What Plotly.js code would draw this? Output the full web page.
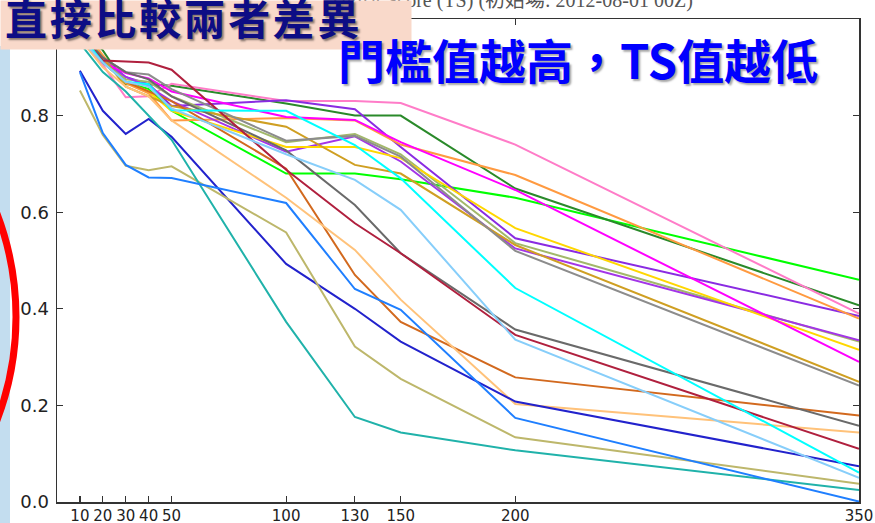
<!DOCTYPE html>
<html>
<head>
<meta charset="utf-8">
<script src="https://cdn.plot.ly/plotly-3.0.1.min.js"></script>
<style>html,body{margin:0;padding:0;background:#fff;}#chart{width:875px;height:523px;}</style>
</head>
<body>
<div id="chart"></div>
<script>
// Threshold values (x axis)
const thresholds = [10, 20, 30, 40, 50, 100, 130, 150, 200, 350];
const xTickVals = [10, 20, 30, 40, 50, 100, 130, 150, 200, 350];
const xTickText = ["10", "20", "30", "40", "50", "100", "130", "150", "200", "350"];
const yTickVals = [0, 0.2, 0.4, 0.6, 0.8, 1.0];
const yTickText = ["0.0", "0.2", "0.4", "0.6", "0.8", "1.0"];

// TS values per member
const tsLime        = [0.97, 0.92, 0.87, 0.855, 0.81, 0.68, 0.68, 0.668, 0.63, 0.46];
const tsDarkGreen   = [0.98, 0.935, 0.865, 0.865, 0.862, 0.825, 0.80, 0.80, 0.649, 0.407];
const tsHotPink     = [0.96, 0.905, 0.838, 0.84, 0.866, 0.83, 0.83, 0.826, 0.74, 0.39];
const tsBlueViolet  = [0.97, 0.92, 0.88, 0.865, 0.82, 0.832, 0.813, 0.735, 0.546, 0.385];
const tsOrange      = [0.99, 0.925, 0.867, 0.846, 0.79, 0.795, 0.79, 0.74, 0.677, 0.38];
const tsOliveGreen  = [0.97, 0.915, 0.875, 0.87, 0.84, 0.745, 0.762, 0.72, 0.536, 0.332];
const tsViolet      = [0.96, 0.915, 0.88, 0.86, 0.83, 0.725, 0.757, 0.705, 0.525, 0.335];
const tsGold        = [0.96, 0.91, 0.87, 0.85, 0.81, 0.735, 0.735, 0.712, 0.567, 0.315];
const tsMagenta     = [0.97, 0.91, 0.888, 0.877, 0.85, 0.797, 0.791, 0.745, 0.646, 0.29];
const tsGoldenrod   = [0.98, 0.92, 0.86, 0.84, 0.82, 0.777, 0.698, 0.68, 0.532, 0.249];
const tsGray        = [0.97, 0.92, 0.89, 0.885, 0.855, 0.748, 0.758, 0.715, 0.52, 0.241];
const tsChocolate   = [0.98, 0.91, 0.87, 0.85, 0.83, 0.69, 0.47, 0.373, 0.258, 0.179];
const tsDimGray     = [0.97, 0.92, 0.89, 0.875, 0.84, 0.728, 0.615, 0.515, 0.357, 0.158];
const tsLightOrange = [0.96, 0.90, 0.86, 0.84, 0.79, 0.63, 0.522, 0.419, 0.203, 0.144];
const tsCrimson     = [0.97, 0.914, 0.912, 0.91, 0.895, 0.688, 0.577, 0.515, 0.346, 0.11];
const tsMediumBlue  = [0.893, 0.81, 0.762, 0.793, 0.756, 0.493, 0.40, 0.332, 0.208, 0.074];
const tsCyan        = [0.97, 0.91, 0.87, 0.865, 0.811, 0.81, 0.739, 0.67, 0.443, 0.061];
const tsLightSky    = [0.96, 0.91, 0.87, 0.86, 0.815, 0.72, 0.667, 0.605, 0.336, 0.05];
const tsDarkKhaki   = [0.852, 0.76, 0.696, 0.687, 0.695, 0.558, 0.322, 0.255, 0.134, 0.038];
const tsSeaGreen    = [0.95, 0.89, 0.85, 0.80, 0.75, 0.373, 0.176, 0.144, 0.107, 0.025];
const tsDodgerBlue  = [0.89, 0.764, 0.698, 0.672, 0.671, 0.619, 0.441, 0.398, 0.174, 0.001];

const series = [
  [tsLime, "#00ff00"], [tsDarkGreen, "#2a8a2a"], [tsHotPink, "#ff7cc8"],
  [tsBlueViolet, "#8a2be2"], [tsOrange, "#ff9a40"], [tsOliveGreen, "#a2b86a"],
  [tsViolet, "#a335e8"], [tsGold, "#ffd700"], [tsMagenta, "#ff00ff"],
  [tsGoldenrod, "#cf9f22"], [tsGray, "#8c8c8c"], [tsChocolate, "#d2691e"],
  [tsDimGray, "#6a6a6a"], [tsLightOrange, "#ffc27a"], [tsCrimson, "#b0203e"],
  [tsMediumBlue, "#2222cc"], [tsCyan, "#00ffff"], [tsLightSky, "#87cefa"],
  [tsDarkKhaki, "#bdb76b"], [tsSeaGreen, "#20b2aa"], [tsDodgerBlue, "#1f7fff"]
];

const traces = series.map(([vals, col]) => ({
  x: thresholds, y: vals, type: "scatter", mode: "lines",
  line: {color: col, width: 2}, hoverinfo: "skip"
}));

// pixel -> paper helpers for decorations
const L = 57, T = 19, W = 802, H = 483;
const px = x => (x - L) / W;
const py = y => (T + H - y) / H;

const bannerText = "直接比較兩者差異".split("").join("\u200A");

const layout = {
  width: 875, height: 523,
  margin: {l: L, r: 875 - L - W, t: T, b: 523 - T - H},
  paper_bgcolor: "#ffffff", plot_bgcolor: "#ffffff",
  showlegend: false,
  font: {family: "DejaVu Sans", color: "#222"},
  xaxis: {
    range: [0, 350], tickmode: "array", tickvals: xTickVals, ticktext: xTickText,
    ticks: "inside", ticklen: 6, tickwidth: 1.2, tickcolor: "#333",
    showline: true, linecolor: "#333", linewidth: 1.5, mirror: "ticks",
    showgrid: false, zeroline: false, tickfont: {size: 15, color: "#222"},
    ticklabelstandoff: -1
  },
  yaxis: {
    range: [0, 1.0], tickmode: "array", tickvals: yTickVals, ticktext: yTickText,
    ticks: "inside", ticklen: 6, tickwidth: 1.2, tickcolor: "#333",
    showline: true, linecolor: "#333", linewidth: 1.5, mirror: "ticks",
    showgrid: false, zeroline: false, tickfont: {size: 18, color: "#222"},
    ticklabelstandoff: 3
  },
  shapes: [
    {type: "rect", xref: "paper", yref: "paper", x0: px(0), x1: px(10), y0: py(523), y1: py(46),
     fillcolor: "#c3ddef", line: {width: 0}, layer: "above"},
    {type: "circle", xref: "paper", yref: "paper", x0: px(-564), x1: px(16), y0: py(607), y1: py(27),
     line: {color: "#ff0000", width: 7}, fillcolor: "rgba(0,0,0,0)", layer: "above"}
  ],
  annotations: [
    {xref: "paper", yref: "paper", x: px(695), y: py(14), xanchor: "right", yanchor: "bottom",
     showarrow: false, text: "Threat Score (TS) (初始場: 2012-08-01 00Z)",
     font: {family: "Liberation Serif, Noto Sans CJK TC", size: 20, color: "#555"}},
    // pink banner box
    {xref: "paper", yref: "paper", x: px(0), y: py(0), xanchor: "left", yanchor: "top",
     showarrow: false, text: " ", width: 410, height: 48, borderpad: 0, bgcolor: "#f9d9ca",
     font: {size: 10, color: "#f9d9ca"}},
    // banner text
    {xref: "paper", yref: "paper", x: px(3), y: py(16), xanchor: "left", yanchor: "middle",
     showarrow: false, text: "<b>" + bannerText + "</b>",
     font: {family: "Noto Sans CJK TC", size: 42, weight: 900, color: "#0d0d85", shadow: "2px 2px 2px rgba(0,0,0,0.45)"}},
    {xref: "paper", yref: "paper", x: px(336), y: py(58), xanchor: "left", yanchor: "middle",
     showarrow: false, text: "<b>門檻值越高，TS值越低</b>",
     font: {family: "Noto Sans CJK TC", size: 47, weight: 900, color: "#0000ff", shadow: "2px 2px 2px rgba(0,0,0,0.35)"}}
  ]
};

Plotly.newPlot("chart", traces, layout, {staticPlot: true, displayModeBar: false});
</script>
</body>
</html>
